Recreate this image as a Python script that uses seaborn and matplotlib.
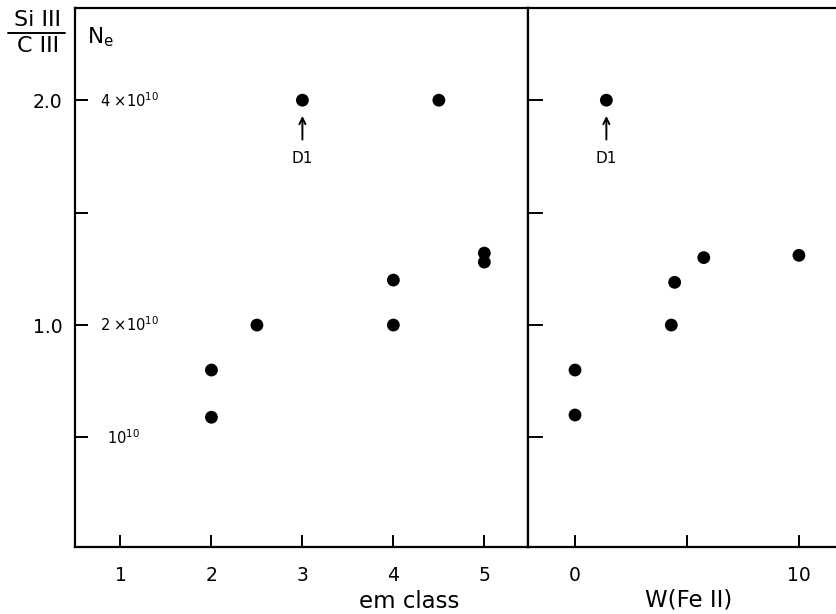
import numpy as np
import pandas as pd
import matplotlib
matplotlib.use("Agg")
import matplotlib.pyplot as plt
from matplotlib.lines import Line2D
import seaborn as sns

# data
em_class = [2, 2, 2.5, 3, 4, 4, 4.5, 5, 5]
ratio_em = [0.80, 0.59, 1.00, 2.00, 1.20, 1.00, 2.00, 1.32, 1.28]

w_fe = [0, 0, 1.4, 4.3, 4.45, 5.75, 10]
ratio_w = [0.80, 0.60, 2.00, 1.00, 1.19, 1.30, 1.31]

em_ticks = [1, 2, 3, 4, 5]
w_ticks = [0, 5, 10]
w_ticklabels = ["0", "", "10"]
ratio_ticks = [0.5, 1.0, 1.5, 2.0]
ratio_ticklabels = ["", "1.0", "", "2.0"]

ne_labels = [(2.0, r"4 $\times$10$^{10}$", 0.77), (1.0, r"2 $\times$10$^{10}$", 0.77),
             (0.5, r"10$^{10}$", 0.85)]

sns.set_style("ticks")
plt.rcParams['font.family'] = ['DejaVu Sans']
plt.rcParams['mathtext.default'] = 'regular'
plt.rcParams['text.color'] = 'black'
plt.rcParams['axes.labelcolor'] = 'black'
plt.rcParams['xtick.color'] = 'black'
plt.rcParams['ytick.color'] = 'black'

fig = plt.figure(figsize=(8.37, 6.14), dpi=100)
ax1 = fig.add_axes([75 / 837, 67 / 614, 453 / 837, 539 / 614])
ax2 = fig.add_axes([528 / 837, 67 / 614, 309 / 837, 539 / 614])

df1 = pd.DataFrame({'em': em_class, 'ratio': ratio_em})
df2 = pd.DataFrame({'w': w_fe, 'ratio': ratio_w})

sns.scatterplot(data=df1, x='em', y='ratio', ax=ax1, color='black', s=85,
                edgecolor='none', legend=False)
sns.scatterplot(data=df2, x='w', y='ratio', ax=ax2, color='black', s=85,
                edgecolor='none', legend=False)

ylim = (0.013, 2.41)
for ax in (ax1, ax2):
    ax.set_ylim(*ylim)
    ax.set_yticks(ratio_ticks)
    for sp in ax.spines.values():
        sp.set_linewidth(1.6)
        sp.set_color('black')
ax1.set_xlim(0.5, 5.48)
ax2.set_xlim(-2.1, 11.7)
ax2.spines['right'].set_visible(False)

ax1.set_xticks(em_ticks)
ax1.set_yticklabels(ratio_ticklabels)
ax1.tick_params(axis='both', direction='in', length=9, width=1.4,
                labelsize=13.5, color='black')
ax1.tick_params(axis='x', pad=14)
ax1.tick_params(axis='y', pad=9)

ax2.set_xticks(w_ticks)
ax2.set_xticklabels(w_ticklabels)
ax2.set_yticklabels([])
ax2.tick_params(axis='x', direction='in', length=9, width=1.4, labelsize=13.5, pad=14)
ax2.tick_params(axis='y', direction='in', length=11, width=1.4)

ax1.set_xlabel("em class", fontsize=16.5)
ax1.set_ylabel("")
ax1.xaxis.set_label_coords(0.737, -0.08)
ax2.set_xlabel("W(Fe II)", fontsize=16.5)
ax2.set_ylabel("")
ax2.xaxis.set_label_coords(0.521, -0.077)

# density scale written inside the left panel
for yv, txt, xv in ne_labels:
    ax1.text(xv, yv, txt, fontsize=10.5, ha='left', va='center')
ax1.text(0.63, 2.28, r"N$_\mathrm{e}$", fontsize=15.5, ha='left', va='center')

# D1 markers
ax1.annotate("D1", xy=(3, 1.93), xytext=(3, 1.74), fontsize=11,
             ha='center', va='center',
             arrowprops=dict(arrowstyle='->', color='black', lw=1.4, shrinkA=6, shrinkB=0))
ax2.annotate("D1", xy=(1.4, 1.93), xytext=(1.4, 1.74), fontsize=11,
             ha='center', va='center',
             arrowprops=dict(arrowstyle='->', color='black', lw=1.4, shrinkA=6, shrinkB=0))

# y axis title as a fraction
fig.text(37 / 837, 1 - 20 / 614, "Si III", fontsize=16, ha='center', va='center')
fig.text(38 / 837, 1 - 46 / 614, "C III", fontsize=16, ha='center', va='center')
fig.add_artist(Line2D([8 / 837, 65 / 837], [1 - 33 / 614, 1 - 33 / 614],
                      color='black', lw=1.4, transform=fig.transFigure))

plt.savefig("out.png", dpi=100)
